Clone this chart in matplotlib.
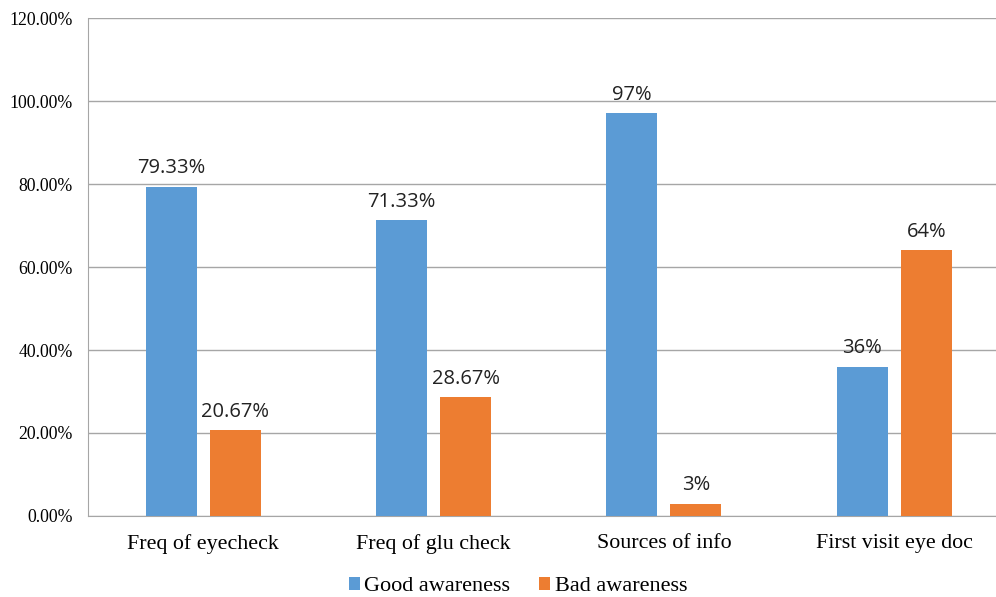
import matplotlib.pyplot as plt
import numpy as np
from matplotlib.ticker import PercentFormatter

categories = ["Freq of eyecheck", "Freq of glu check", "Sources of info", "First visit eye doc"]
good = [79.33, 71.33, 97, 36]
bad = [20.67, 28.67, 3, 64]
good_labels = ["79.33%", "71.33%", "97%", "36%"]
bad_labels = ["20.67%", "28.67%", "3%", "64%"]

blue = "#5B9BD5"
orange = "#ED7D31"
grid_col = "#A6A6A6"
serif = ["Liberation Serif", "DejaVu Serif"]
sans = ["Open Sans", "DejaVu Sans"]

fig = plt.figure(figsize=(9.96, 5.97), dpi=100)
# plot area runs a little past the right edge, like the cropped original
ax = fig.add_axes([0.0884, 0.1357, 0.925, 0.8341])

x = np.arange(len(categories))
w = 0.222
off = (w + 0.0565) / 2
b1 = ax.bar(x - off, good, w, color=blue, label="Good awareness", zorder=3)
b2 = ax.bar(x + off, bad, w, color=orange, label="Bad awareness", zorder=3)

# value labels above the bars
for bars, labs in [(b1, good_labels), (b2, bad_labels)]:
    for r, t in zip(bars, labs):
        ax.text(r.get_x() + r.get_width() / 2, r.get_height() + 2.0, t,
                ha="center", va="bottom", fontsize=14.5, family=sans, color="#222222", zorder=4)

ax.set_xlim(-0.5, 3.5)
ax.set_ylim(0, 120)
ax.set_yticks(np.arange(0, 121, 20))
ax.yaxis.set_major_formatter(PercentFormatter(decimals=2))
ax.set_xticks(x)
ax.set_xticklabels(categories, fontsize=15.8, family=serif)
for lab in ax.get_yticklabels():
    lab.set_family(serif)
    lab.set_fontsize(12.8)
ax.tick_params(axis="both", length=0)
ax.tick_params(axis="x", pad=13)
ax.tick_params(axis="y", pad=11)

ax.grid(axis="y", color=grid_col, linewidth=1, zorder=0)
for s in ["top", "right"]:
    ax.spines[s].set_visible(False)
ax.spines["left"].set_color(grid_col)
ax.spines["bottom"].set_color(grid_col)

fig.legend(handles=[b1, b2], loc="center", bbox_to_anchor=(0.52, 0.017), ncol=2,
           frameon=False, prop={"family": serif, "size": 16},
           handlelength=0.5, handleheight=0.5, handletextpad=0.2, columnspacing=1.3)

fig.savefig("out.png", dpi=100)
